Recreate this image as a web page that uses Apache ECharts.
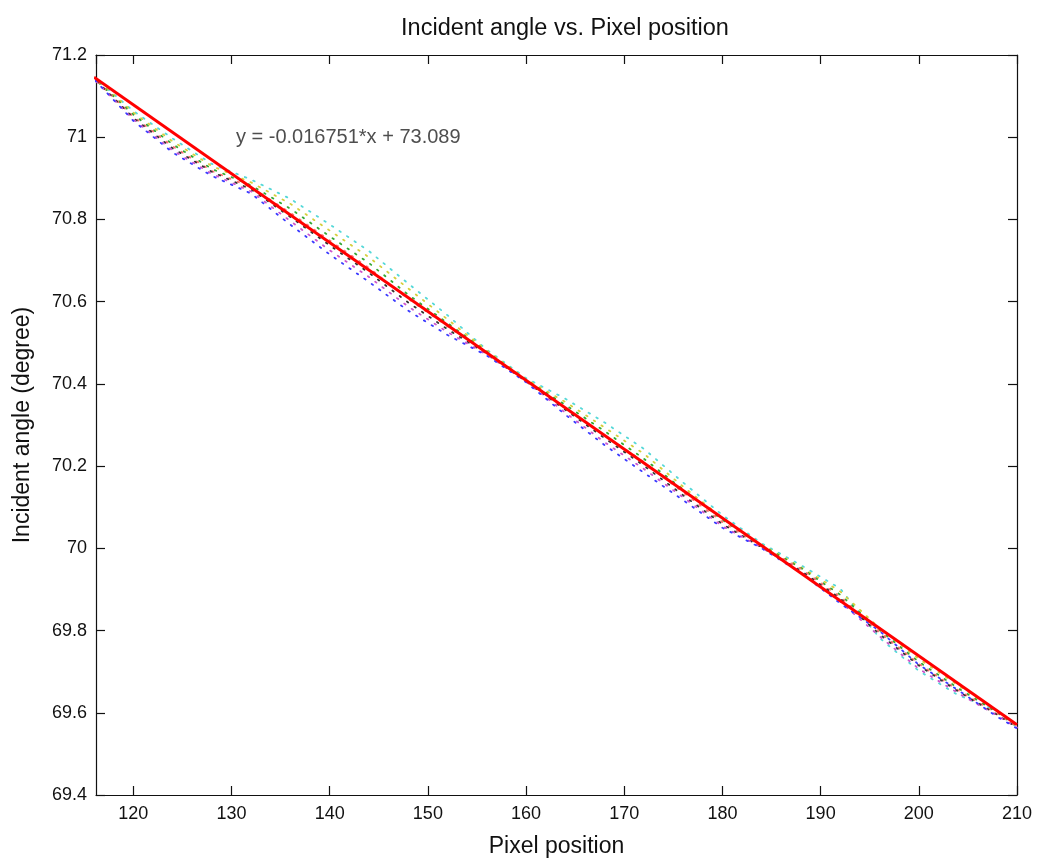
<!DOCTYPE html>
<html><head><meta charset="utf-8">
<script src="https://cdn.jsdelivr.net/npm/echarts@6/dist/echarts.min.js"></script>
<style>html,body{margin:0;padding:0;background:#fff}#c{width:1037px;height:863px}</style>
</head><body><div id="c"></div>
<script>
const titleText = 'Incident angle vs. Pixel position';
const xName = 'Pixel position';
const yName = 'Incident angle (degree)';
const eqText = 'y = -0.016751*x + 73.089';
const eqAt = [130.45, 71.0];

const xMin = 116.2, xMax = 210;
const yMin = 69.4, yMax = 71.2, yStep = 0.2;

const xs = [116,120,124,128,132,136,140,144,148,152,156,160,164,168,172,176,180,184,188,192,196,200,204,208,210];

const cyanY    = [71.146,71.064,70.997,70.935,70.897,70.850,70.788,70.723,70.644,70.567,70.483,70.414,70.364,70.306,70.242,70.160,70.081,70.012,69.959,69.902,69.782,69.702,69.643,69.605,69.571];
const yellowY  = [71.146,71.060,70.990,70.930,70.890,70.838,70.773,70.708,70.632,70.557,70.481,70.411,70.356,70.294,70.230,70.150,70.074,70.009,69.954,69.895,69.806,69.731,69.667,69.602,69.569];
const greenY   = [71.143,71.055,70.983,70.923,70.883,70.826,70.759,70.694,70.617,70.548,70.478,70.409,70.349,70.285,70.218,70.143,70.069,70.007,69.952,69.887,69.801,69.724,69.660,69.600,69.566];
const redDotY  = [71.143,71.050,70.978,70.918,70.878,70.816,70.749,70.682,70.607,70.540,70.476,70.409,70.342,70.275,70.210,70.136,70.064,70.004,69.950,69.882,69.796,69.719,69.655,69.597,69.566];
const blackY   = [71.143,71.047,70.973,70.916,70.873,70.806,70.737,70.670,70.598,70.533,70.473,70.406,70.337,70.268,70.201,70.129,70.059,70.002,69.945,69.878,69.791,69.715,69.652,69.595,69.564];
const magentaY = [71.141,71.043,70.968,70.911,70.868,70.796,70.725,70.660,70.588,70.526,70.471,70.406,70.330,70.258,70.193,70.124,70.054,70.002,69.942,69.870,69.786,69.707,69.648,69.593,69.564];
const blueY    = [71.141,71.040,70.963,70.906,70.863,70.787,70.715,70.648,70.578,70.519,70.469,70.404,70.325,70.251,70.184,70.117,70.050,70.000,69.940,69.866,69.799,69.717,69.655,69.590,69.562];

const fitX = [116, 210];
const fitY = [71.146, 69.571];

const dotted = [
  ['c', cyanY, '#55d8d8'],
  ['y', yellowY, '#d6cf3a'],
  ['g', greenY, '#33a833'],
  ['r', redDotY, '#ff7070'],
  ['k', blackY, '#333333'],
  ['m', magentaY, '#cc55cc'],
  ['b', blueY, '#3a3aff']
];

const font = '"Liberation Sans", Arial, Helvetica, sans-serif';
const pair = (a, b) => a.map((v, i) => [v, b[i]]);

const series = dotted.map(([n, ys, col], i) => ({
  name: n, type: 'line', data: pair(xs, ys), showSymbol: false, silent: true,
  lineStyle: { color: col, width: 1.8, type: [1.6, 7.5], dashOffset: i * 1.3, cap: 'round' },
  z: 2
}));
series.push({
  name: 'fit', type: 'line', data: pair(fitX, fitY), showSymbol: false, silent: true,
  lineStyle: { color: '#ff0000', width: 3 }, z: 3
});
series.push({
  name: 'eq', type: 'scatter', data: [eqAt], symbolSize: 0.1, silent: true,
  itemStyle: { color: 'rgba(0,0,0,0)' },
  label: { show: true, position: 'right', distance: 0, formatter: eqText,
           color: '#222', fontSize: 20, fontFamily: font },
  z: 4
});

const axisCommon = {
  axisLine: { show: true, lineStyle: { color: '#111', width: 1.2 } },
  axisTick: { show: true, inside: true, length: 9, lineStyle: { color: '#111', width: 1.2 } },
  splitLine: { show: false }
};

const chart = echarts.init(document.getElementById('c'), null, { renderer: 'canvas' });
chart.setOption({
  backgroundColor: '#ffffff',
  animation: false,
  title: { text: titleText, left: 560, top: 12, textAlign: 'center',
           textStyle: { fontSize: 23.5, fontWeight: 'normal', color: '#111', fontFamily: font } },
  grid: { left: 96, right: 20, top: 55, bottom: 66 },
  xAxis: [
    Object.assign({ type: 'value', min: xMin, max: xMax, minInterval: 10, maxInterval: 10,
      name: xName, nameLocation: 'middle', nameGap: 40,
      nameTextStyle: { fontSize: 23, color: '#111', fontFamily: font },
      axisLabel: { showMinLabel: false, fontSize: 18, color: '#111', margin: 10, fontFamily: font } }, axisCommon),
    Object.assign({ type: 'value', position: 'top', min: xMin, max: xMax, minInterval: 10, maxInterval: 10,
      axisLabel: { show: false } }, axisCommon)
  ],
  yAxis: [
    Object.assign({ type: 'value', min: yMin, max: yMax, interval: yStep,
      name: yName, nameLocation: 'middle', nameGap: 62,
      nameTextStyle: { fontSize: 23, color: '#111', fontFamily: font },
      axisLabel: { fontSize: 18, color: '#111', margin: 9, fontFamily: font } }, axisCommon),
    Object.assign({ type: 'value', position: 'right', min: yMin, max: yMax, interval: yStep,
      axisLabel: { show: false } }, axisCommon)
  ],
  series: series
});
</script></body></html>
